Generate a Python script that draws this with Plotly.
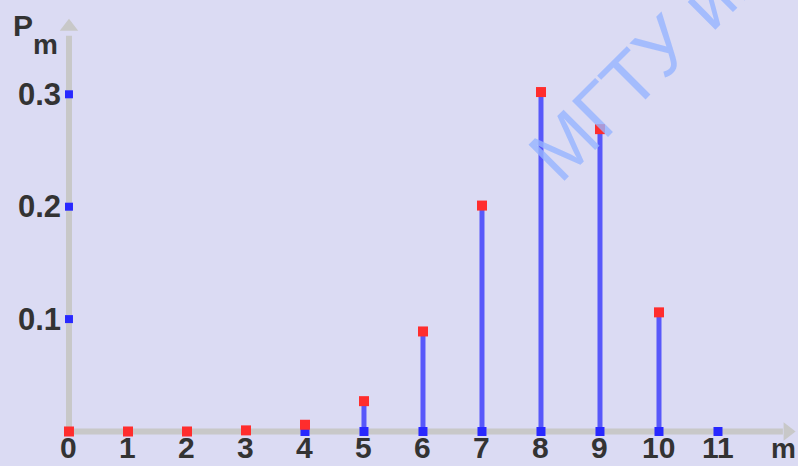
import plotly.graph_objects as go

# Probability distribution P_m over the number of events m
m_values = [0, 1, 2, 3, 4, 5, 6, 7, 8, 9, 10]
p_values = [0.0, 0.0, 0.0, 0.001, 0.006, 0.027, 0.089, 0.201, 0.302, 0.269, 0.106]

# Baseline points marked in blue along the m axis
base_m = [4, 5, 6, 7, 8, 9, 10, 11]

# Axis ticks and labels
x_ticks = [0, 1, 2, 3, 4, 5, 6, 7, 8, 9, 10, 11]
x_tick_labels = ["0", "1", "2", "3", "4", "5", "6", "7", "8", "9", "10", "11"]
y_ticks = [0.1, 0.2, 0.3]
y_tick_labels = ["0.1", "0.2", "0.3"]

BG = "rgb(219,219,243)"
AXIS = "rgb(200,200,200)"
BAR = "rgb(88,88,250)"
RED = "rgb(255,45,45)"
BLUE = "rgb(40,40,255)"
TEXT = "#333333"
FONT = "Liberation Sans, Arial, sans-serif"

X_RANGE = [-1.169, 12.356]
Y_RANGE = [-0.0307, 0.3839]
X_END = 12.1
Y_END = 0.352

fig = go.Figure()

# axes
fig.add_trace(go.Scatter(x=[0, X_END], y=[0, 0], mode="lines",
                         line=dict(color=AXIS, width=6), hoverinfo="skip"))
fig.add_trace(go.Scatter(x=[0, 0], y=[0, Y_END], mode="lines",
                         line=dict(color=AXIS, width=6), hoverinfo="skip"))
fig.add_trace(go.Scatter(x=[X_END + 0.08], y=[0], mode="markers",
                         marker=dict(symbol="triangle-right", size=16, color=AXIS),
                         hoverinfo="skip"))
fig.add_trace(go.Scatter(x=[0], y=[Y_END + 0.008], mode="markers",
                         marker=dict(symbol="triangle-up", size=16, color=AXIS),
                         hoverinfo="skip"))

# vertical stems from the axis up to each probability
stem_x, stem_y = [], []
for m, p in zip(m_values, p_values):
    if p > 0:
        stem_x += [m, m, None]
        stem_y += [0, p, None]
fig.add_trace(go.Scatter(x=stem_x, y=stem_y, mode="lines",
                         line=dict(color=BAR, width=5), hoverinfo="skip"))

# y tick marks on the vertical axis
fig.add_trace(go.Scatter(x=[0] * len(y_ticks), y=y_ticks, mode="markers",
                         marker=dict(symbol="square", size=8, color=BLUE)))

# baseline markers
fig.add_trace(go.Scatter(x=base_m, y=[0] * len(base_m), mode="markers",
                         marker=dict(symbol="square", size=9, color=BLUE)))

# probability points
fig.add_trace(go.Scatter(x=m_values, y=p_values, mode="markers",
                         marker=dict(symbol="square", size=10, color=RED)))

annotations = []
for xv, lab in zip(x_ticks, x_tick_labels):
    annotations.append(dict(x=xv, y=0, yref="paper", text="<b>%s</b>" % lab,
                            showarrow=False, xanchor="center", yanchor="bottom",
                            font=dict(family=FONT, size=30, color=TEXT)))
for yv, lab in zip(y_ticks, y_tick_labels):
    annotations.append(dict(x=-0.1, y=yv, text="<b>%s</b>" % lab, showarrow=False,
                            xanchor="right", yanchor="middle",
                            font=dict(family=FONT, size=31, color=TEXT)))

# axis titles
annotations.append(dict(x=0.014, y=0.945, xref="paper", yref="paper", text="<b>P</b>",
                        showarrow=False, xanchor="left", yanchor="middle",
                        font=dict(family=FONT, size=30, color=TEXT)))
annotations.append(dict(x=0.039, y=0.905, xref="paper", yref="paper", text="<b>m</b>",
                        showarrow=False, xanchor="left", yanchor="middle",
                        font=dict(family=FONT, size=28, color=TEXT)))
annotations.append(dict(x=1.0, y=0.0, xref="paper", yref="paper", text="<b>m</b>",
                        showarrow=False, xanchor="right", yanchor="bottom",
                        font=dict(family=FONT, size=28, color=TEXT)))

# watermark
annotations.append(dict(x=0.815, y=0.875, xref="paper", yref="paper", text="МГТУ им",
                        showarrow=False, xanchor="center", yanchor="middle",
                        textangle=-45,
                        font=dict(family=FONT, size=74, color="rgba(150,180,255,0.8)")))

fig.update_layout(
    width=798, height=466, autosize=False,
    margin=dict(l=0, r=0, t=0, b=0),
    paper_bgcolor=BG, plot_bgcolor=BG,
    showlegend=False,
    xaxis=dict(range=X_RANGE, visible=False, fixedrange=True),
    yaxis=dict(range=Y_RANGE, visible=False, fixedrange=True),
    annotations=annotations,
)

fig.write_html("out.html")
